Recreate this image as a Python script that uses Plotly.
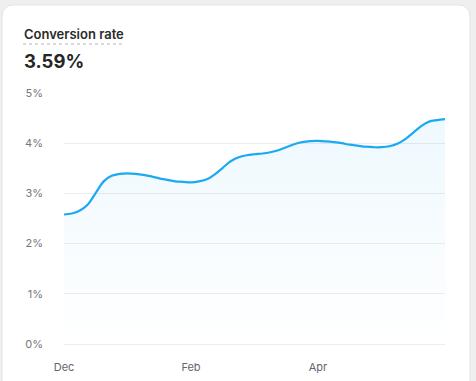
import plotly.graph_objects as go

# ---- data (x in months since Dec) ----
x_pos = [0.000, 0.125, 0.250, 0.375, 0.500, 0.625, 0.750, 0.875,
         1.000, 1.125, 1.250, 1.375, 1.500, 1.625, 1.750, 1.875,
         2.000, 2.125, 2.250, 2.375, 2.500, 2.625, 2.750, 2.875,
         3.000, 3.125, 3.250, 3.375, 3.500, 3.625, 3.750, 3.875,
         4.000, 4.125, 4.250, 4.375, 4.500, 4.625, 4.750, 4.875,
         5.000, 5.125, 5.250, 5.375, 5.500, 5.625, 5.750, 5.875, 6.000]
rate = [2.58, 2.60, 2.66, 2.78, 3.01, 3.24, 3.35, 3.39,
        3.40, 3.39, 3.37, 3.34, 3.30, 3.27, 3.24, 3.23,
        3.22, 3.24, 3.28, 3.38, 3.51, 3.64, 3.72, 3.76,
        3.78, 3.795, 3.82, 3.86, 3.92, 3.98, 4.02, 4.04,
        4.045, 4.035, 4.02, 4.00, 3.97, 3.95, 3.93, 3.92,
        3.92, 3.94, 3.99, 4.08, 4.21, 4.34, 4.43, 4.46, 4.48]
tick_vals = [0, 2, 4]
tick_text = ["Dec", "Feb", "Apr"]
title_text = "Conversion rate"
headline = "3.59%"

W, H = 476, 381
L, R, T, B = 64, 31, 93, 37
pw, ph = W - L - R, H - T - B


def px(xp):
    return (xp - L) / pw


def py(yp):
    return (H - B - yp) / ph


fig = go.Figure()
fig.add_trace(go.Scatter(
    x=x_pos, y=rate, mode="lines",
    line=dict(color="#1ba9f1", width=2.2, shape="spline", smoothing=1.0),
    fill="tozeroy",
    fillgradient=dict(type="vertical",
                      colorscale=[[0, "rgba(27,169,241,0.0)"], [1, "rgba(27,169,241,0.075)"]]),
    hoverinfo="skip", showlegend=False,
))

# card shape (rounded rect) in paper coords
cl, ct, cr, cb, rad = 2, 5, 470, 400, 12
path = (f"M {px(cl)},{py(ct + rad)} Q {px(cl)},{py(ct)} {px(cl + rad)},{py(ct)} "
        f"L {px(cr - rad)},{py(ct)} Q {px(cr)},{py(ct)} {px(cr)},{py(ct + rad)} "
        f"L {px(cr)},{py(cb)} L {px(cl)},{py(cb)} Z")

fig.update_layout(
    width=W, height=H,
    margin=dict(l=L, r=R, t=T, b=B),
    paper_bgcolor="#efefef",
    plot_bgcolor="rgba(0,0,0,0)",
    font=dict(family="Inter, Roboto, sans-serif"),
    shapes=[
        dict(type="path", path=path, xref="paper", yref="paper", layer="below",
             fillcolor="#ffffff", line=dict(color="#e4e4e4", width=1)),
        dict(type="line", xref="paper", yref="paper",
             x0=px(23), x1=px(122), y0=py(44), y1=py(44),
             line=dict(color="#b5b5b5", width=1.2, dash="dot")),
    ],
    annotations=[
        dict(text=title_text, xref="paper", yref="paper", x=px(22), y=py(34),
             xanchor="left", yanchor="middle", showarrow=False,
             font=dict(size=13, color="#2a2a2a", weight=600)),
        dict(text=headline, xref="paper", yref="paper", x=px(22), y=py(61),
             xanchor="left", yanchor="middle", showarrow=False,
             font=dict(size=18.5, color="#262626", weight=700)),
    ],
    xaxis=dict(range=[0, 6], tickvals=tick_vals, ticktext=tick_text,
               showgrid=False, zeroline=False, showline=False, ticks="",
               tickfont=dict(size=11, color="#5f6672"), ticklabelstandoff=15,
               automargin=False, fixedrange=True),
    yaxis=dict(range=[0, 5], dtick=1, ticksuffix="%", showgrid=True,
               gridcolor="#ececec", gridwidth=1, zeroline=True,
               zerolinecolor="#ececec", zerolinewidth=1, showline=False, ticks="",
               tickfont=dict(size=11, color="#777777"),
               ticklabelstandoff=20, automargin=False,
               fixedrange=True),
)

fig.write_html("out.html", post_script="document.body.style.margin='0';",
               config={"displayModeBar": False})
